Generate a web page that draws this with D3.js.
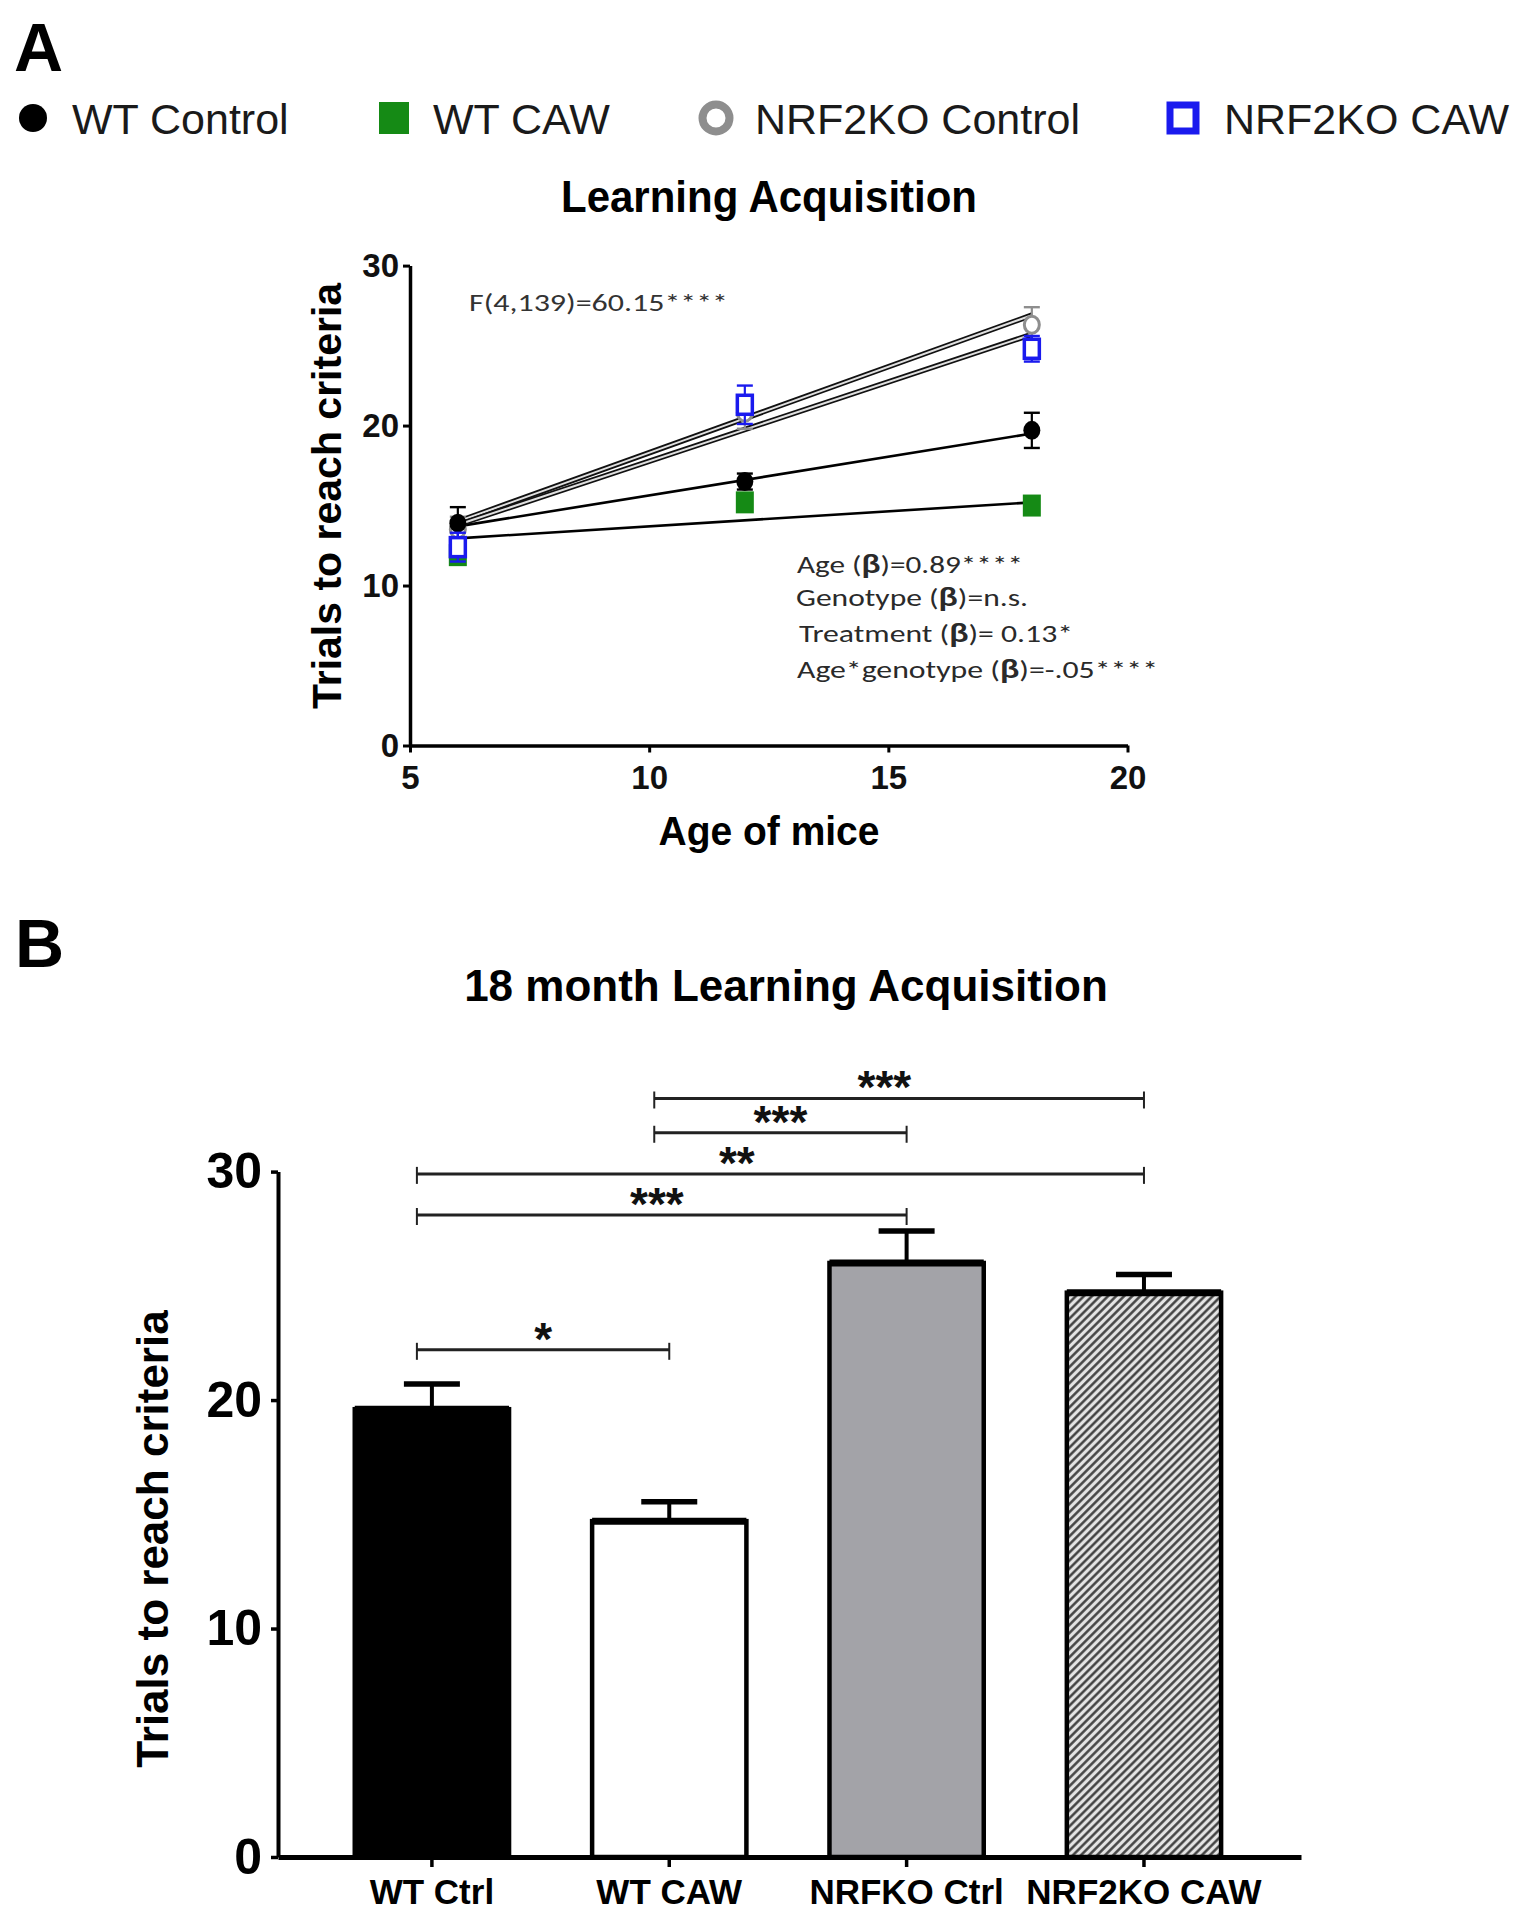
<!DOCTYPE html>
<html><head><meta charset="utf-8">
<script src="https://cdn.jsdelivr.net/npm/d3@7"></script>
<style>body{margin:0;background:#fff} svg{display:block}</style>
</head><body>
<svg id="c" width="1518" height="1920"></svg>
<script>
// ---------- DATA ----------
const ages = [6, 12, 18];
const seriesNames = ["WT Control", "WT CAW", "NRF2KO Control", "NRF2KO CAW"];
const wtControlMean = [13.9, 16.5, 19.7];
const wtControlSem = [1.0, 0.5, 1.1];
const wtCawMean = [11.9, 15.2, 15.0];
const wtCawSem = [0.6, 0.5, 0.5];
const koControlMean = [13.5, 20.8, 26.3];
const koControlSem = [0.8, 1.0, 1.1];
const koCawMean = [12.4, 21.3, 24.8];
const koCawSem = [0.9, 1.2, 0.8];
const fitAtStart = [13.7, 12.95, 14.0, 13.8];   // fitted value at age 6
const fitAtEnd = [19.5, 15.2, 26.9, 25.7];       // fitted value at age 18
const ageTicks = [5, 10, 15, 20];
const trialTicksA = [0, 10, 20, 30];
const fStat = "F(4,139)=60.15****";
const statsLines = [["Age (", "β", ")=0.89****"], ["Genotype (", "β", ")=n.s."], ["Treatment (", "β", ")= 0.13*"], ["Age*genotype (", "β", ")=-.05****"]];

const barCategories = ["WT Ctrl", "WT CAW", "NRFKO Ctrl", "NRF2KO CAW"];
const barMeans = [19.6, 14.7, 26.0, 24.7];
const barSems = [1.1, 0.85, 1.4, 0.8];
const trialTicksB = [0, 10, 20, 30];
const sigPairs = [[1, 3], [1, 2], [0, 3], [0, 2], [0, 1]];
const sigLevels = [33.2, 31.7, 29.9, 28.1, 22.2];
const sigLabels = ["***", "***", "**", "***", "*"];
const sigLabelAt = [0.47, 0.5, 0.44, 0.49, 0.5];   // label position along the bracket

// ---------- HELPERS ----------
const svg = d3.select("#c");
const SANS = "'Liberation Sans', Arial, Helvetica, sans-serif";
const NARROW = "Carlito, Calibri, 'Liberation Sans Narrow', 'Open Sans', sans-serif";
function txt(g, x, y, s, o = {}) {
  const t = g.append("text")
    .attr("transform", `translate(${x},${y})${o.rot ? ` rotate(${o.rot})` : ""} scale(1,${o.sy || 1})`)
    .attr("text-anchor", o.anchor || "start")
    .style("font-family", o.family || SANS)
    .style("font-size", o.size + "px")
    .style("font-weight", o.weight || "normal")
    .attr("fill", o.fill || "#000");
  if (s !== null) t.text(s);
  if (o.len) t.attr("textLength", o.len).attr("lengthAdjust", "spacingAndGlyphs");
  return t;
}

// hatch pattern
const defs = svg.append("defs");
const pat = defs.append("pattern").attr("id", "hatch").attr("patternUnits", "userSpaceOnUse")
  .attr("width", 5.7).attr("height", 5.7).attr("patternTransform", "rotate(45)");
pat.append("rect").attr("width", 5.7).attr("height", 5.7).attr("fill", "#e4e4e4");
pat.append("line").attr("x1", 1.4).attr("x2", 1.4).attr("y1", 0).attr("y2", 5.7)
  .attr("stroke", "#3c3c3c").attr("stroke-width", 2.4);

// ---------- PANEL A ----------
txt(svg, 14, 71, "A", {size: 68, weight: "bold"});

const series = [
  {name: seriesNames[0], mean: wtControlMean, sem: wtControlSem, shape: "circle", fill: "#000", stroke: "#000", err: "#000", dbl: false},
  {name: seriesNames[1], mean: wtCawMean, sem: wtCawSem, shape: "square", fill: "#158a15", stroke: "#158a15", err: "#111", dbl: false},
  {name: seriesNames[2], mean: koControlMean, sem: koControlSem, shape: "ring", fill: "#fff", stroke: "#8e8e8e", err: "#8e8e8e", dbl: true},
  {name: seriesNames[3], mean: koCawMean, sem: koCawSem, shape: "opensq", fill: "#fff", stroke: "#1a1aee", err: "#1a1aee", dbl: true}
];

// legend
const legX = [33, 394, 716, 1183];
const legTextX = [72, 433, 755, 1224];
const legG = svg.append("g");
series.forEach((s, i) => {
  const cx = legX[i], cy = 118;
  if (s.shape === "circle") legG.append("circle").attr("cx", cx).attr("cy", cy).attr("r", 14).attr("fill", "#000");
  if (s.shape === "square") legG.append("rect").attr("x", cx - 15).attr("y", cy - 16).attr("width", 30).attr("height", 32).attr("fill", s.fill);
  if (s.shape === "ring") legG.append("circle").attr("cx", cx).attr("cy", cy).attr("r", 13.5).attr("fill", "#fff").attr("stroke", s.stroke).attr("stroke-width", 8);
  if (s.shape === "opensq") legG.append("rect").attr("x", cx - 13).attr("y", cy - 13).attr("width", 26).attr("height", 26).attr("fill", "#fff").attr("stroke", s.stroke).attr("stroke-width", 7);
  txt(legG, legTextX[i], 134, s.name, {size: 43, fill: "#1a1a1a"});
});

txt(svg, 769, 212, "Learning Acquisition", {size: 42, weight: "bold", anchor: "middle", sy: 1.07});

const xA = d3.scaleLinear().domain([5, 20]).range([410, 1127.5]);
const yA = d3.scaleLinear().domain([0, 30]).range([745.5, 265.6]);

const axA = svg.append("g");
const yAxA = axA.append("g").attr("transform", `translate(${xA.range()[0]},0)`)
  .call(d3.axisLeft(yA).tickValues(trialTicksA).tickSize(7).tickSizeOuter(0).tickPadding(4));
const xAxA = axA.append("g").attr("transform", `translate(0,${yA.range()[0]})`)
  .call(d3.axisBottom(xA).tickValues(ageTicks).tickSize(7).tickSizeOuter(0).tickPadding(13));
[yAxA, xAxA].forEach(a => {
  a.select(".domain").attr("stroke", "#000").attr("stroke-width", 3.5);
  a.selectAll(".tick line").attr("stroke", "#000").attr("stroke-width", 3);
  a.selectAll("text").style("font-family", SANS).style("font-size", "33px").style("font-weight", "bold").attr("fill", "#111");
});
txt(svg, 769, 845, "Age of mice", {size: 39, weight: "bold", anchor: "middle", sy: 1.05});
txt(svg, 341, 496, "Trials to reach criteria", {size: 41, weight: "bold", anchor: "middle", rot: -90});

// regression lines
const lineG = svg.append("g");
series.forEach((s, i) => {
  const x1 = xA(ages[0]), x2 = xA(ages[ages.length - 1]);
  const y1 = yA(fitAtStart[i]), y2 = yA(fitAtEnd[i]);
  if (s.dbl) {
    lineG.append("line").attr("x1", x1).attr("y1", y1).attr("x2", x2).attr("y2", y2).attr("stroke", "#111").attr("stroke-width", 5.5);
    lineG.append("line").attr("x1", x1).attr("y1", y1).attr("x2", x2).attr("y2", y2).attr("stroke", "#e0e0e0").attr("stroke-width", 2);
  } else {
    lineG.append("line").attr("x1", x1).attr("y1", y1).attr("x2", x2).attr("y2", y2).attr("stroke", "#000").attr("stroke-width", 2.6);
  }
});

// points + error bars (draw order: gray, green, black, blue)
const order = [2, 1, 0, 3];
const ptG = svg.append("g");
order.forEach(i => {
  const s = series[i];
  ages.forEach((a, k) => {
    const cx = xA(a), m = s.mean[k], e = s.sem[k];
    ptG.append("line").attr("x1", cx).attr("x2", cx).attr("y1", yA(m - e)).attr("y2", yA(m + e)).attr("stroke", s.err).attr("stroke-width", 2.2);
    [m - e, m + e].forEach(v => ptG.append("line").attr("x1", cx - 8).attr("x2", cx + 8).attr("y1", yA(v)).attr("y2", yA(v)).attr("stroke", s.err).attr("stroke-width", 2.4));
    const cy = yA(m);
    if (s.shape === "circle") ptG.append("ellipse").attr("cx", cx).attr("cy", cy).attr("rx", 8.5).attr("ry", 9.5).attr("fill", "#000");
    if (s.shape === "square") ptG.append("rect").attr("x", cx - 9).attr("y", cy - 11).attr("width", 18).attr("height", 22).attr("fill", s.fill);
    if (s.shape === "ring") ptG.append("ellipse").attr("cx", cx).attr("cy", cy).attr("rx", 7.5).attr("ry", 8.5).attr("fill", "#fff").attr("stroke", s.stroke).attr("stroke-width", 3);
    if (s.shape === "opensq") ptG.append("rect").attr("x", cx - 7.5).attr("y", cy - 9.5).attr("width", 15).attr("height", 19).attr("fill", "#fff").attr("stroke", s.stroke).attr("stroke-width", 3.5);
  });
});

// stats annotations
txt(svg, 469, 311, fStat, {size: 25, family: NARROW, fill: "#333", len: 259});
const statX = [797, 796, 799, 797];
const statY = [573, 606, 642, 678];
const statLen = [226, 232, 274, 361];
statsLines.forEach((parts, i) => {
  const t = txt(svg, statX[i], statY[i], null, {size: 25, family: NARROW, fill: "#2a2a2a", len: statLen[i]});
  t.append("tspan").text(parts[0]);
  t.append("tspan").style("font-weight", "bold").style("font-family", SANS).text(parts[1]);
  t.append("tspan").text(parts[2]);
});

// ---------- PANEL B ----------
txt(svg, 15, 967, "B", {size: 68, weight: "bold"});
txt(svg, 786, 1001, "18 month Learning Acquisition", {size: 44, weight: "bold", anchor: "middle"});

const xB = d3.scaleBand().domain(barCategories).range([278, 1301]).paddingInner(0.35).paddingOuter(0.33).align(0.49);
const yB = d3.scaleLinear().domain([0, 30]).range([1857, 1171.6]);

const yAxB = svg.append("g").attr("transform", `translate(${xB.range()[0]},0)`)
  .call(d3.axisLeft(yB).tickValues(trialTicksB).tickSize(7).tickSizeOuter(0).tickPadding(9));
const xAxB = svg.append("g").attr("transform", `translate(0,${yB.range()[0]})`)
  .call(d3.axisBottom(xB).tickSize(10).tickSizeOuter(0).tickPadding(12));
yAxB.select(".domain").attr("stroke", "#000").attr("stroke-width", 4);
xAxB.select(".domain").attr("stroke", "#000").attr("stroke-width", 5);
[yAxB, xAxB].forEach(a => a.selectAll(".tick line").attr("stroke", "#000").attr("stroke-width", 3.5));
yAxB.selectAll("text").style("font-family", SANS).style("font-size", "50px").style("font-weight", "bold").attr("fill", "#000");
xAxB.selectAll("text").style("font-family", SANS).style("font-size", "35px").style("font-weight", "bold").attr("fill", "#000");
txt(svg, 168, 1539, "Trials to reach criteria", {size: 44, weight: "bold", anchor: "middle", rot: -90});

const barFills = ["#000", "#fff", "#a3a3a8", "url(#hatch)"];
const barG = svg.append("g");
barCategories.forEach((c, i) => {
  const x = xB(c), w = xB.bandwidth(), cx = x + w / 2;
  const top = yB(barMeans[i]), errTop = yB(barMeans[i] + barSems[i]);
  barG.append("line").attr("x1", cx).attr("x2", cx).attr("y1", top).attr("y2", errTop).attr("stroke", "#000").attr("stroke-width", 4);
  barG.append("line").attr("x1", cx - 28).attr("x2", cx + 28).attr("y1", errTop).attr("y2", errTop).attr("stroke", "#000").attr("stroke-width", 5.5);
  barG.append("rect").attr("x", x).attr("y", top).attr("width", w).attr("height", yB(0) - top)
    .attr("fill", barFills[i]).attr("stroke", "#000").attr("stroke-width", 4.5);
  barG.append("line").attr("x1", x).attr("x2", x + w).attr("y1", top).attr("y2", top).attr("stroke", "#000").attr("stroke-width", 7);
});

// significance brackets
const sigG = svg.append("g");
sigPairs.forEach((p, i) => {
  const xl = xB(barCategories[p[0]]) + xB.bandwidth() / 2 - 15;
  const xr = xB(barCategories[p[1]]) + xB.bandwidth() / 2;
  const y = yB(sigLevels[i]);
  sigG.append("line").attr("x1", xl).attr("x2", xr).attr("y1", y).attr("y2", y).attr("stroke", "#222").attr("stroke-width", 3);
  [xl, xr].forEach(xx => sigG.append("line").attr("x1", xx).attr("x2", xx).attr("y1", y - 7).attr("y2", y + 10).attr("stroke", "#222").attr("stroke-width", 2));
  txt(sigG, xl + (xr - xl) * sigLabelAt[i], y + 5, sigLabels[i], {size: 46, weight: "bold", anchor: "middle", fill: "#111"});
});
</script>
</body></html>
